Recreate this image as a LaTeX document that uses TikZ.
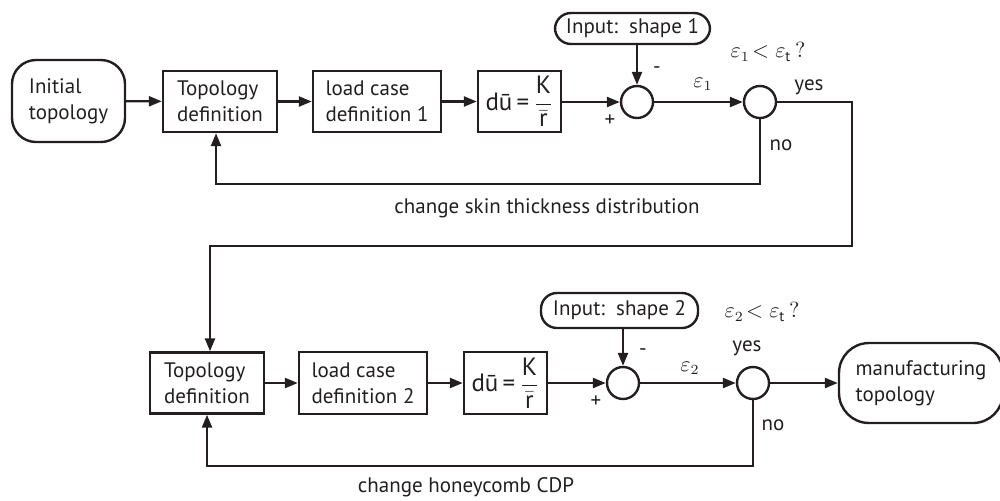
\documentclass[tikz,border=0pt]{standalone}
\usepackage{fontspec}
\setmainfont{PT Sans}
\usetikzlibrary{arrows.meta}
\definecolor{ink}{HTML}{231F20}
\newcommand{\dueq}{\fontsize{12.5}{14}\selectfont d\=u\,=\,$\displaystyle\frac{\mbox{K}}{\bar{\mbox{r}}}$}
\begin{document}
\begin{tikzpicture}[x=0.5pt,y=-0.5pt,
  every node/.style={text=ink, font=\fontsize{10.5}{13}\selectfont},
  ln/.style={draw=ink, line width=1.2pt},
  arr/.style={ln, -{Triangle[length=6.5pt,width=5pt]}},
  blk/.style={ln, rectangle, align=left, inner sep=0pt, minimum height=30.5pt},
  term/.style={ln, rectangle, rounded corners=12pt, align=left, inner sep=0pt},
  inp/.style={ln, rectangle, rounded corners=8pt, inner sep=0pt, minimum height=15.5pt},
  sum/.style={ln, circle, minimum size=16pt, inner sep=0pt},
  lbl/.style={inner sep=0pt}
]
\useasboundingbox (0,0) rectangle (1000,500);

% top row
\node[term, minimum width=56.5pt, minimum height=41pt] (init) at (68.5,101) {Initial\\topology};
\node[blk, minimum width=57pt] (td1) at (220,101.5) {Topology\\definition};
\node[blk, minimum width=64pt] (lc1) at (377,101.5) {load case\\definition 1};
\node[blk, minimum width=41.5pt] (du1) at (519.5,101.5) {\dueq};
\node[sum] (s1) at (637,102) {};
\node[inp, minimum width=77.5pt] (in1) at (632.5,28.5) {Input:\ \ shape 1};
\node[sum] (d1) at (760,102) {};

% bottom row
\node[blk, minimum width=57pt] (td2) at (207,383) {Topology\\definition};
\node[blk, minimum width=64pt, minimum height=31pt] (lc2) at (363,383) {load case\\definition 2};
\node[blk, minimum width=41.5pt, minimum height=31pt] (du2) at (505.5,383) {\dueq};
\node[sum] (s2) at (623,383) {};
\node[inp, minimum width=78.5pt, minimum height=17.5pt] (in2) at (619.5,310.5) {Input:\ \ shape 2};
\node[sum] (d2) at (753,383) {};
\node[term, rounded corners=15pt, minimum width=82pt, minimum height=40pt] (mt) at (921,383) {manufacturing\\topology};

% labels
\node[lbl] (m1) at (657,70) {-};
\node[lbl] (p1) at (610,121) {+};
\node[lbl] (e1) at (703,84) {$\varepsilon_1$};
\node[lbl] (q1) at (768,52) {$\varepsilon_1\!<\varepsilon_{\mathrm{t}}\,?$};
\node[lbl] (y1) at (809,87) {yes};
\node[lbl] (no1) at (781,145) {no};
\node[lbl] (t1) at (547,208) {change skin thickness distribution};

\node[lbl] (m2) at (643,352) {-};
\node[lbl] (p2) at (596,402) {+};
\node[lbl] (e2) at (690,368) {$\varepsilon_2$};
\node[lbl] (q2) at (762,312) {$\varepsilon_2\!<\varepsilon_{\mathrm{t}}\,?$};
\node[lbl] (y2) at (747,348) {yes};
\node[lbl] (no2) at (773,425) {no};
\node[lbl] (t2) at (466,487) {change honeycomb CDP};

% coordinates
\coordinate (c1) at (852,246);
\coordinate (n1) at (760,184);
\coordinate (n2) at (753,466);

% top connectors
\draw[arr] (init) -- (td1);
\draw[arr] (td1) -- (lc1);
\draw[arr] (lc1) -- (du1);
\draw[arr] (du1.east |- s1) -- (s1);
\draw[arr] (in1.south -| s1) -- (s1);
\draw[arr] (s1) -- (d1);
\draw[arr] (d1.east) -| (c1) -| ([xshift=1.5pt]td2.north);
\draw[arr] (d1.south) -- (n1) -| ([xshift=-2pt]td1.south);

% bottom connectors
\draw[arr] (td2) -- (lc2);
\draw[arr] (lc2) -- (du2);
\draw[arr] (du2) -- (s2);
\draw[arr] (in2.south -| s2) -- (s2);
\draw[arr] (s2) -- (d2);
\draw[arr] (d2) -- (mt);
\draw[arr] (d2.south) -- (n2) -| (td2.south);
\end{tikzpicture}
\end{document}
